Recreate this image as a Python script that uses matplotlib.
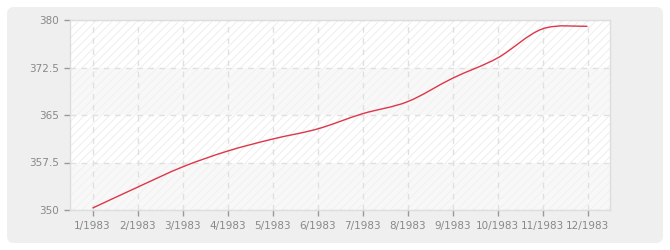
import numpy as np
import matplotlib
matplotlib.use("Agg")
import matplotlib.pyplot as plt
from matplotlib.path import Path
from matplotlib.patches import PathPatch, FancyBboxPatch
from matplotlib.transforms import IdentityTransform

# data
months = list(range(1, 13))
labels = [f"{m}/1983" for m in months]
values = [350.3, 353.6, 356.8, 359.3, 361.2, 362.8, 365.2, 367.1, 370.8, 374.0, 378.6, 379.0]
yticks = [350, 357.5, 365, 372.5, 380]
ytick_labels = ["350", "357.5", "365", "372.5", "380"]

plt.rcParams['hatch.color'] = '#ececec'
plt.rcParams['hatch.linewidth'] = 0.6

fig = plt.figure(figsize=(6.7, 2.5), dpi=100)
fig.patch.set_facecolor('white')

# grey rounded panel behind everything
panel = FancyBboxPatch((7, 7), 656, 236, boxstyle="round,pad=0,rounding_size=7",
                       transform=IdentityTransform(), facecolor='#efefef',
                       edgecolor='none', zorder=-10)
fig.patches.append(panel)

ax = fig.add_axes([70 / 670, 40 / 250, 540 / 670, 190 / 250])
ax.set_zorder(1)
ax.set_facecolor('white')
ax.set_xlim(0.5, 12.5)
ax.set_ylim(350, 380)

# alternating bands with diagonal hatching
for i in range(len(yticks) - 1):
    lo, hi = yticks[i], yticks[i + 1]
    fc = '#f8f8f8' if i % 2 == 0 else 'white'
    ax.axhspan(lo, hi, facecolor=fc, edgecolor='none', zorder=0)
    ax.axhspan(lo, hi, facecolor='none', hatch='////', edgecolor='#f0f0f0' if i % 2 == 0 else '#ebebeb',
               linewidth=0, zorder=0.1)

# smooth line (Catmull-Rom -> cubic bezier)
pts = np.column_stack([months, values]).astype(float)
verts = [pts[0]]
codes = [Path.MOVETO]
n = len(pts)
for i in range(n - 1):
    p0 = pts[max(i - 1, 0)]
    p1 = pts[i]
    p2 = pts[i + 1]
    p3 = pts[min(i + 2, n - 1)]
    c1 = p1 + (p2 - p0) / 6
    c2 = p2 - (p3 - p1) / 6
    verts += [c1, c2, p2]
    codes += [Path.CURVE4] * 3
ax.add_patch(PathPatch(Path(verts, codes), facecolor='none', edgecolor='#dd3648',
                       linewidth=1.0, zorder=3))

ax.set_xticks(months)
ax.set_xticklabels(labels)
ax.set_yticks(yticks)
ax.set_yticklabels(ytick_labels)
ax.tick_params(axis='both', colors='#999999', labelcolor='#888888', labelsize=7.5,
               length=4, width=1, direction='out', pad=4)

ax.grid(True, linestyle=(0, (4, 4)), color='#e0e0e0', linewidth=1, zorder=1)
ax.set_axisbelow(True)
for s in ax.spines.values():
    s.set_color('#dddddd')
    s.set_linewidth(1)

fig.savefig('out.png', dpi=100, facecolor=fig.get_facecolor())
